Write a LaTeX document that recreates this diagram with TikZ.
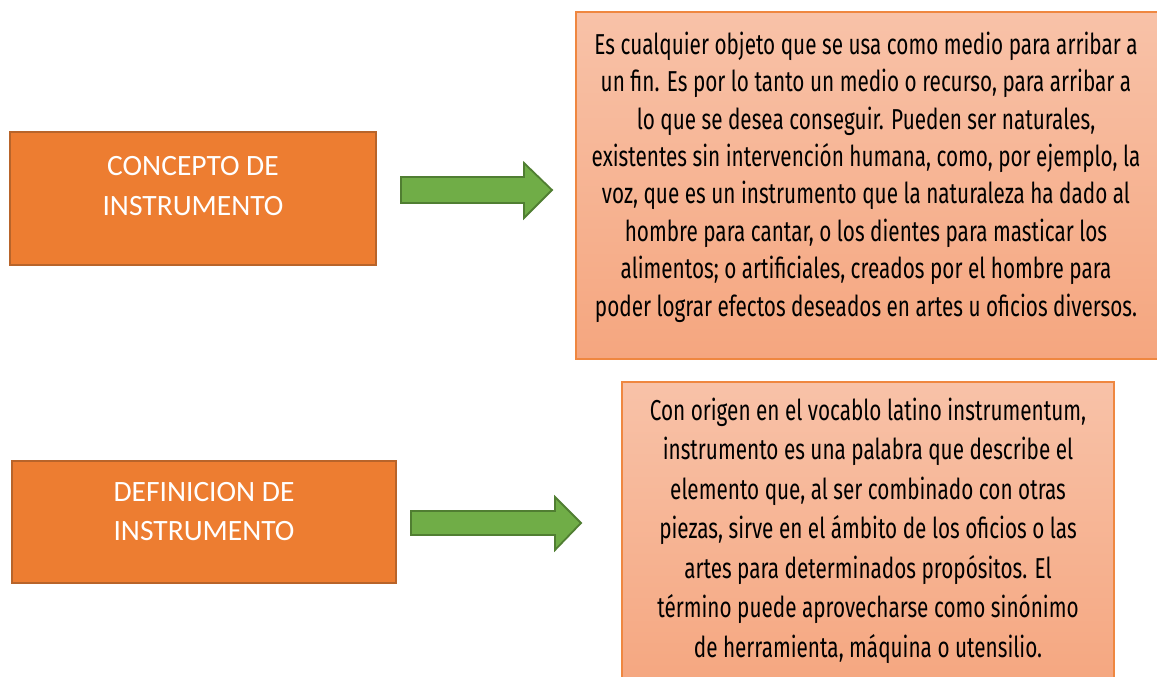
\documentclass[tikz,border=0pt]{standalone}
\usepackage{fontspec}
\setmainfont{Carlito}
\newfontfamily\agency[FakeStretch=0.72]{Fira Sans}
\definecolor{orfill}{HTML}{ED7D31}
\definecolor{ordraw}{HTML}{B8642A}
\definecolor{grfill}{HTML}{70AD47}
\definecolor{grdraw}{HTML}{507E32}
\definecolor{saltop}{HTML}{F8C2A8}
\definecolor{salbot}{HTML}{F5A67F}
\definecolor{saldraw}{HTML}{EF8740}
\tikzset{
  titlebox/.style={draw=ordraw, line width=1.8pt, fill=orfill, rectangle, inner sep=0pt},
  titletext/.style={text=white, font=\fontsize{29.5}{40}\selectfont, align=center, inner sep=0pt},
  descbox/.style={draw=saldraw, line width=1.4pt, top color=saltop, bottom color=salbot, rectangle, inner sep=0pt},
  desctext/.style={text=black, font=\agency\fontsize{28.8}{37.4}\selectfont, align=center, inner sep=0pt},
  blockarrow/.style={draw=grdraw, line width=1.8pt, fill=grfill, line join=miter}
}
\begin{document}
\begin{tikzpicture}[x=1pt,y=-1pt]
\useasboundingbox (0,0) rectangle (1157,677);
% left boxes
\node[titlebox, minimum width=366pt, minimum height=133pt] (b1) at (193,198.5) {};
\node[titletext] (t1) at (193,186) {CONCEPTO DE\\INSTRUMENTO};
\node[titlebox, minimum width=384pt, minimum height=122pt] (b2) at (204,522) {};
\node[titletext, font=\fontsize{29.5}{39}\selectfont] (t2) at (204,511.5) {DEFINICION DE\\INSTRUMENTO};
% description boxes
\node[descbox, minimum width=590pt, minimum height=347pt] (d1) at (871,185.5) {};
\node[desctext] (e1) at (866,177) {Es cualquier objeto que se usa como medio para arribar a\\un fin. Es por lo tanto un medio o recurso, para arribar a\\lo que se desea conseguir. Pueden ser naturales,\\existentes sin intervención humana, como, por ejemplo, la\\voz, que es un instrumento que la naturaleza ha dado al\\hombre para cantar, o los dientes para masticar los\\alimentos; o artificiales, creados por el hombre para\\poder lograr efectos deseados en artes u oficios diversos.};
\node[descbox, minimum width=492pt, minimum height=310pt] (d2) at (868,537) {};
\node[desctext, font=\agency\fontsize{28.8}{39.5}\selectfont] (e2) at (868,530.5) {Con origen en el vocablo latino instrumentum,\\instrumento es una palabra que describe el\\elemento que, al ser combinado con otras\\piezas, sirve en el ámbito de los oficios o las\\artes para determinados propósitos. El\\término puede aprovecharse como sinónimo\\de herramienta, máquina o utensilio.};
% arrows
\coordinate (a1s) at (401,190);
\coordinate (a1t) at (552,190);
\draw[blockarrow] (a1s) ++(0,-13) -- (524,177) -- (524,163) -- (a1t) -- (524,218) -- (524,203) -- (401,203) -- cycle;
\coordinate (a2s) at (411,523);
\coordinate (a2t) at (581,523);
\draw[blockarrow] (a2s) ++(0,-12) -- (555,511) -- (555,497) -- (a2t) -- (555,550) -- (555,535) -- (411,535) -- cycle;
\end{tikzpicture}
\end{document}
